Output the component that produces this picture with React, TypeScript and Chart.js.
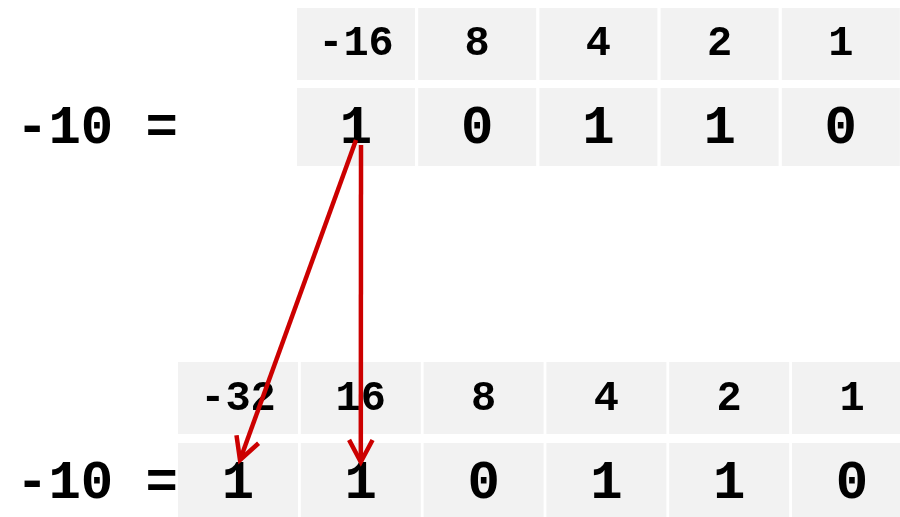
import React, { useEffect, useRef } from "react";
import { Chart, registerables } from "chart.js";

Chart.register(...registerables);

// ---- data ----
const valueLabel = "-10 =";
const topWeights = ["-16", "8", "4", "2", "1"];
const topBits = ["1", "0", "1", "1", "0"];
const bottomWeights = ["-32", "16", "8", "4", "2", "1"];
const bottomBits = ["1", "1", "0", "1", "1", "0"];
// sign bit of the 5-bit number is copied into the two leading bits of the 6-bit number
const arrowFrom = [0, 0];
const arrowTo = [0, 1];

// ---- layout (in scale units, 0..900 x 0..517) ----
const TOP = { x0: 297, pitch: 121.2, w: 118, hTop: 8, hBot: 80, bTop: 88, bBot: 166, hBase: 55, bBase: 143 };
const BOT = { x0: 178, pitch: 122.8, w: 120, hTop: 362, hBot: 434, bTop: 443, bBot: 520, hBase: 410, bBase: 498 };
const ARROW_START_Y = [140, 145];
const ARROW_START_DX = [0, 5];
const ARROW_END_Y = [460, 462];
const ARROW_END_DX = [2, 0];
const RED = "#cc0000";
const CELL = "#f2f2f2";
const FONT = "'Liberation Mono', 'Courier New', monospace";

const cx = (g: typeof TOP, i: number) => g.x0 + i * g.pitch + g.w / 2;

const arrowData = arrowFrom.map((f, k) => [
  { x: cx(TOP, f) + ARROW_START_DX[k], y: ARROW_START_Y[k] },
  { x: cx(BOT, arrowTo[k]) + ARROW_END_DX[k], y: ARROW_END_Y[k] },
]);

const gridPlugin = {
  id: "bitGrid",
  beforeDatasetsDraw(chart: any) {
    const ctx = chart.ctx;
    const xs = chart.scales.x;
    const ys = chart.scales.y;
    const X = (v: number) => xs.getPixelForValue(v);
    const Y = (v: number) => ys.getPixelForValue(v);
    ctx.save();
    const drawGrid = (g: typeof TOP, weights: string[], bits: string[]) => {
      weights.forEach((wt, i) => {
        const l = X(g.x0 + i * g.pitch);
        const r = X(g.x0 + i * g.pitch + g.w);
        ctx.fillStyle = CELL;
        ctx.fillRect(l, Y(g.hTop), r - l, Y(g.hBot) - Y(g.hTop));
        ctx.fillRect(l, Y(g.bTop), r - l, Y(g.bBot) - Y(g.bTop));
        ctx.fillStyle = "#000";
        ctx.textAlign = "center";
        ctx.textBaseline = "alphabetic";
        ctx.font = `bold 42px ${FONT}`;
        ctx.fillText(wt, X(cx(g, i)), Y(g.hBase));
        ctx.font = `bold 54px ${FONT}`;
        ctx.fillText(bits[i], X(cx(g, i)), Y(g.bBase));
      });
    };
    drawGrid(TOP, topWeights, topBits);
    drawGrid(BOT, bottomWeights, bottomBits);
    ctx.fillStyle = "#000";
    ctx.font = `bold 54px ${FONT}`;
    ctx.textAlign = "left";
    ctx.fillText(valueLabel, X(16), Y(TOP.bBase));
    ctx.fillText(valueLabel, X(16), Y(BOT.bBase));
    ctx.restore();
  },
  afterDatasetsDraw(chart: any) {
    const ctx = chart.ctx;
    const xs = chart.scales.x;
    const ys = chart.scales.y;
    ctx.save();
    ctx.strokeStyle = RED;
    ctx.lineWidth = 4.5;
    ctx.lineJoin = "miter";
    ctx.lineCap = "butt";
    arrowData.forEach((seg) => {
      const x1 = xs.getPixelForValue(seg[0].x), y1 = ys.getPixelForValue(seg[0].y);
      const x2 = xs.getPixelForValue(seg[1].x), y2 = ys.getPixelForValue(seg[1].y);
      const ang = Math.atan2(y2 - y1, x2 - x1);
      const len = 25, spread = (28 * Math.PI) / 180;
      ctx.beginPath();
      ctx.moveTo(x2 - len * Math.cos(ang - spread), y2 - len * Math.sin(ang - spread));
      ctx.lineTo(x2, y2);
      ctx.lineTo(x2 - len * Math.cos(ang + spread), y2 - len * Math.sin(ang + spread));
      ctx.stroke();
    });
    ctx.restore();
  },
};

export default function App() {
  const ref = useRef<HTMLCanvasElement>(null);
  useEffect(() => {
    document.body.style.margin = "0";
    const chart = new Chart(ref.current!, {
      type: "scatter",
      data: {
        datasets: arrowData.map((seg) => ({
          data: seg,
          showLine: true,
          borderColor: RED,
          borderWidth: 4.5,
          pointRadius: 0,
          fill: false,
          clip: false as any,
        })),
      },
      options: {
        animation: false,
        responsive: true,
        maintainAspectRatio: false,
        layout: { padding: 0 },
        events: [],
        scales: {
          x: { type: "linear", min: 0, max: 900, display: false },
          y: { type: "linear", min: 0, max: 517, reverse: true, display: false },
        },
        plugins: { legend: { display: false }, tooltip: { enabled: false } },
      },
      plugins: [gridPlugin],
    });
    return () => chart.destroy();
  }, []);
  return (
    <div style={{ position: "absolute", left: 0, top: 0, width: 900, height: 517, background: "#fff" }}>
      <canvas ref={ref} />
    </div>
  );
}
